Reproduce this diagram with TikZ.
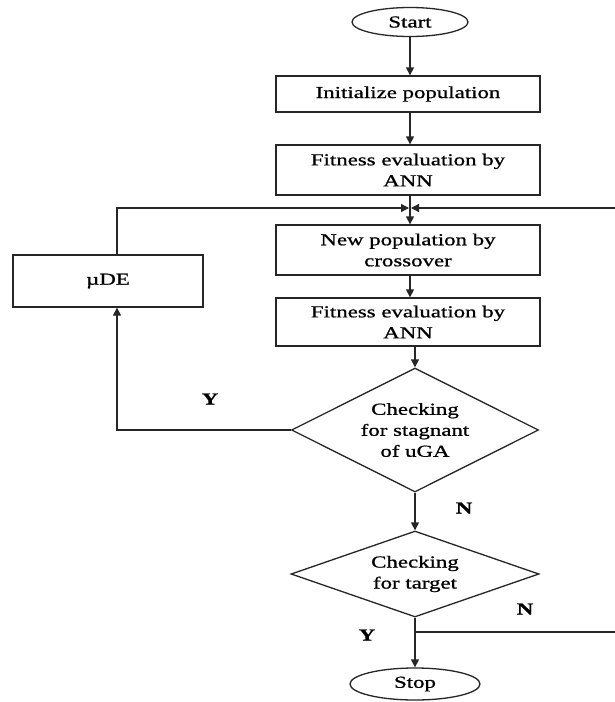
\documentclass[tikz,border=0pt]{standalone}
\usepackage{fontspec}
\setmainfont{Liberation Serif}[FakeStretch=1.36,FakeBold=0.9]
\usetikzlibrary{shapes.geometric,arrows.meta}
\begin{document}
\begin{tikzpicture}[x=1pt,y=-1pt,
  every node/.style={font=\fontsize{16.8}{21}\selectfont, text=black},
  ln/.style={draw=black!85, line width=1.3pt},
  arr/.style={ln, -{Triangle[length=8pt,width=8pt]}},
  box/.style={ln, rectangle, align=center, inner sep=0pt, minimum width=264pt},
  term/.style={ln, ellipse, inner sep=0pt},
  dec/.style={ln, diamond, align=center, inner sep=0pt},
  lab/.style={font=\fontsize{16.8}{21}\selectfont\bfseries}
]
\useasboundingbox (0,0) rectangle (615,702);
\fill[white] (0,0) rectangle (615,702);

\node[term, minimum width=116pt, minimum height=29pt] (start) at (410,22) {Start};
\node[box, minimum height=36pt] (init) at (408,94) {Initialize population};
\node[box, minimum height=50pt] (fit1) at (408,170) {Fitness evaluation by\\ANN};
\node[box, minimum height=50pt] (newpop) at (408,250) {New population by\\crossover};
\node[box, minimum height=48pt] (fit2) at (408,322) {Fitness evaluation by\\ANN};
\node[dec, aspect=2, minimum width=247pt, minimum height=124pt] (d1) at (415,430) {Checking\\for stagnant\\of uGA};
\node[dec, aspect=2.9, minimum width=248pt, minimum height=86pt] (d2) at (415,574) {Checking\\for target};
\node[term, minimum width=130pt, minimum height=32pt] (stop) at (415,684) {Stop};
\node[box, minimum width=190pt, minimum height=52pt] (mude) at (108,281) {µDE};

\coordinate (merge) at (410,208);
\coordinate (rb) at (624,632);
\coordinate (rt) at (624,208);
\coordinate (br) at (415,632);

\draw[arr] (start.south) -- (start.south |- init.north);
\draw[arr] (init.south -| start.south) -- (start.south |- fit1.north);
\draw[ln] (fit1.south -| merge) -- (merge);
\draw[arr] (merge) -- (merge |- newpop.north);
\draw[arr] (newpop.south -| merge) -- (merge |- fit2.north);
\draw[arr] (d1.north |- fit2.south) -- (d1.north);
\draw[arr] (d1.west) -| ([xshift=9pt]mude.south);
\draw[arr] ([xshift=9pt]mude.north) |- ([xshift=-1pt]merge);
\draw[arr] (d1.south) -- (d2.north);
\draw[arr] (d2.south) -- (stop.north);
\draw[arr] (br) -- (rb) -- (rt) -- ([xshift=1pt]merge);

\node[lab] (y1) at (210,399) {Y};
\node[lab] (n1) at (464,508) {N};
\node[lab] (n2) at (525,609) {N};
\node[lab] (y2) at (367,635) {Y};
\end{tikzpicture}
\end{document}
